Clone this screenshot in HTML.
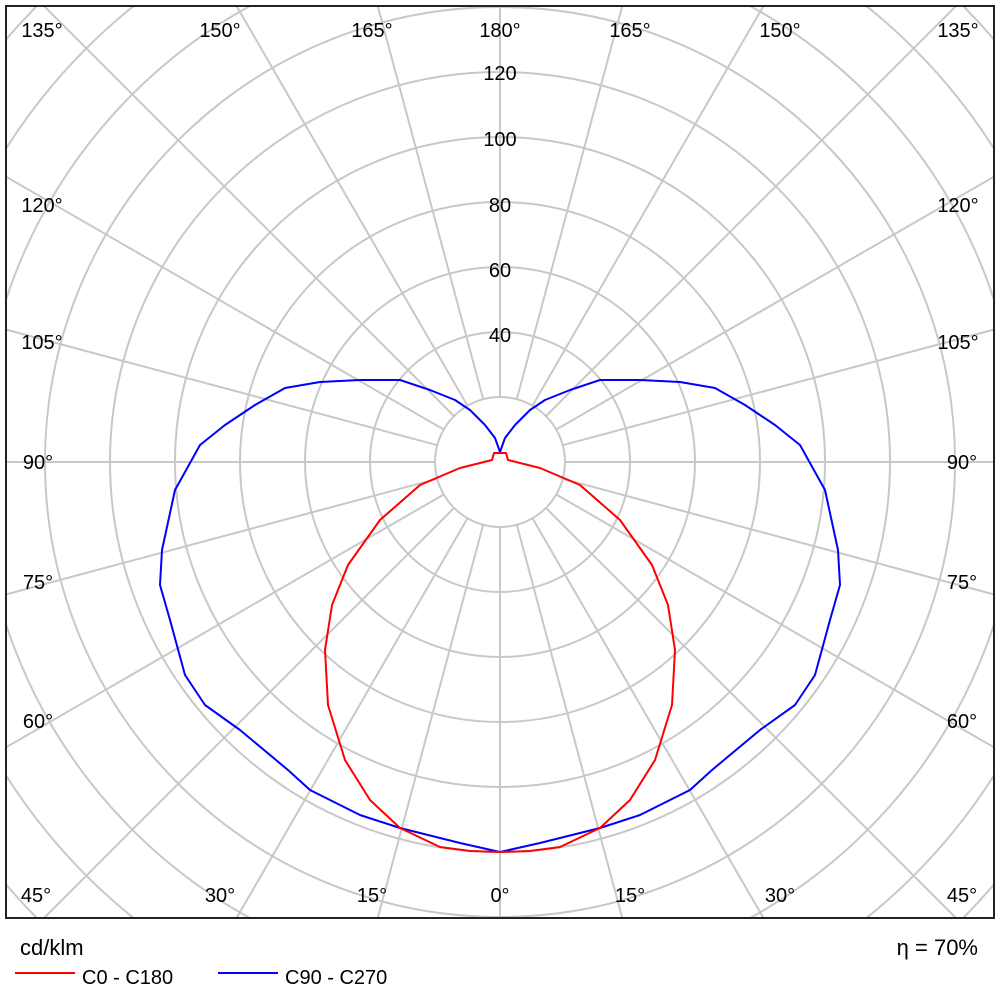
<!DOCTYPE html>
<html><head><style>
html,body{margin:0;background:#fff;overflow:hidden;width:1000px;height:1000px}
svg{display:block;font-family:"Liberation Sans","DejaVu Sans",sans-serif}
</style></head><body>
<svg width="1000" height="1000" viewBox="0 0 1000 1000">
<defs><clipPath id="c"><rect x="7" y="7" width="986" height="910"/></clipPath></defs>
<g clip-path="url(#c)" stroke="#c8c8c8" stroke-width="2" fill="none">
<circle cx="500" cy="462" r="65"/><circle cx="500" cy="462" r="130"/><circle cx="500" cy="462" r="195"/>
<circle cx="500" cy="462" r="260"/><circle cx="500" cy="462" r="325"/><circle cx="500" cy="462" r="390"/>
<circle cx="500" cy="462" r="455"/><circle cx="500" cy="462" r="520"/><circle cx="500" cy="462" r="585"/>
<circle cx="500" cy="462" r="650"/><circle cx="500" cy="462" r="715"/><circle cx="500" cy="462" r="780"/>
<g transform="translate(500,462)">
<path d="M0,65L0,900M0,-65L0,-900M65,0L900,0M-65,0L-900,0
M16.8,62.8L233,869M-16.8,62.8L-233,869M16.8,-62.8L233,-869M-16.8,-62.8L-233,-869
M32.5,56.3L450,779M-32.5,56.3L-450,779M32.5,-56.3L450,-779M-32.5,-56.3L-450,-779
M46,46L636,636M-46,46L-636,636M46,-46L636,-636M-46,-46L-636,-636
M56.3,32.5L779,450M-56.3,32.5L-779,450M56.3,-32.5L779,-450M-56.3,-32.5L-779,-450
M62.8,16.8L869,233M-62.8,16.8L-869,233M62.8,-16.8L869,-233M-62.8,-16.8L-869,-233"/>
</g>
</g>
<g font-size="20" fill="#000" text-anchor="middle">
<text x="500" y="80">120</text><text x="500" y="146">100</text><text x="500" y="212">80</text>
<text x="500" y="277">60</text><text x="500" y="342">40</text>
<text x="42" y="37">135°</text><text x="220" y="37">150°</text><text x="372" y="37">165°</text><text x="500" y="37">180°</text>
<text x="630" y="37">165°</text><text x="780" y="37">150°</text><text x="958" y="37">135°</text>
<text x="42" y="212">120°</text><text x="958" y="212">120°</text>
<text x="42" y="349">105°</text><text x="958" y="349">105°</text>
<text x="38" y="469">90°</text><text x="962" y="469">90°</text>
<text x="38" y="589">75°</text><text x="962" y="589">75°</text>
<text x="38" y="728">60°</text><text x="962" y="728">60°</text>
<text x="36" y="902">45°</text><text x="220" y="902">30°</text><text x="372" y="902">15°</text><text x="500" y="902">0°</text>
<text x="630" y="902">15°</text><text x="780" y="902">30°</text><text x="962" y="902">45°</text>
</g>
<polyline fill="none" stroke="#0000ff" stroke-width="2" stroke-linejoin="round" points="500,852 540,843 600,828 640,815 690,790 712,770 760,730 795,705 815,675 830,620 840,585 838,550 825,490 800,445 775,425 745,405 715,388 680,382 640,380 600,380 570,390 545,400 530,410 515,425 505,438 500,452 495,438 485,425 470,410 455,400 430,390 400,380 360,380 320,382 285,388 255,405 225,425 200,445 175,490 162,550 160,585 170,620 185,675 205,705 240,730 288,770 310,790 360,815 400,828 460,843 500,852"/>
<polyline fill="none" stroke="#ff0000" stroke-width="2" stroke-linejoin="round" points="500,852 530,851 560,847 600,828 630,800 655,760 672,705 675,650 668,605 652,565 620,520 580,485 540,468 508,460 506,453 500,453 494,453 492,460 460,468 420,485 380,520 348,565 332,605 325,650 328,705 345,760 370,800 400,828 440,847 470,851 500,852"/>
<rect x="6" y="6" width="988" height="912" fill="none" stroke="#222" stroke-width="2"/>
<g font-size="22" fill="#000"><text x="20" y="955">cd/klm</text><text x="978" y="955" text-anchor="end">η = 70%</text></g>
<g font-size="20" fill="#000"><text x="82" y="984">C0 - C180</text><text x="285" y="984">C90 - C270</text></g>
<line x1="15" y1="973" x2="75" y2="973" stroke="#ff0000" stroke-width="2"/>
<line x1="218" y1="973" x2="278" y2="973" stroke="#0000ff" stroke-width="2"/>
</svg>
</body></html>
